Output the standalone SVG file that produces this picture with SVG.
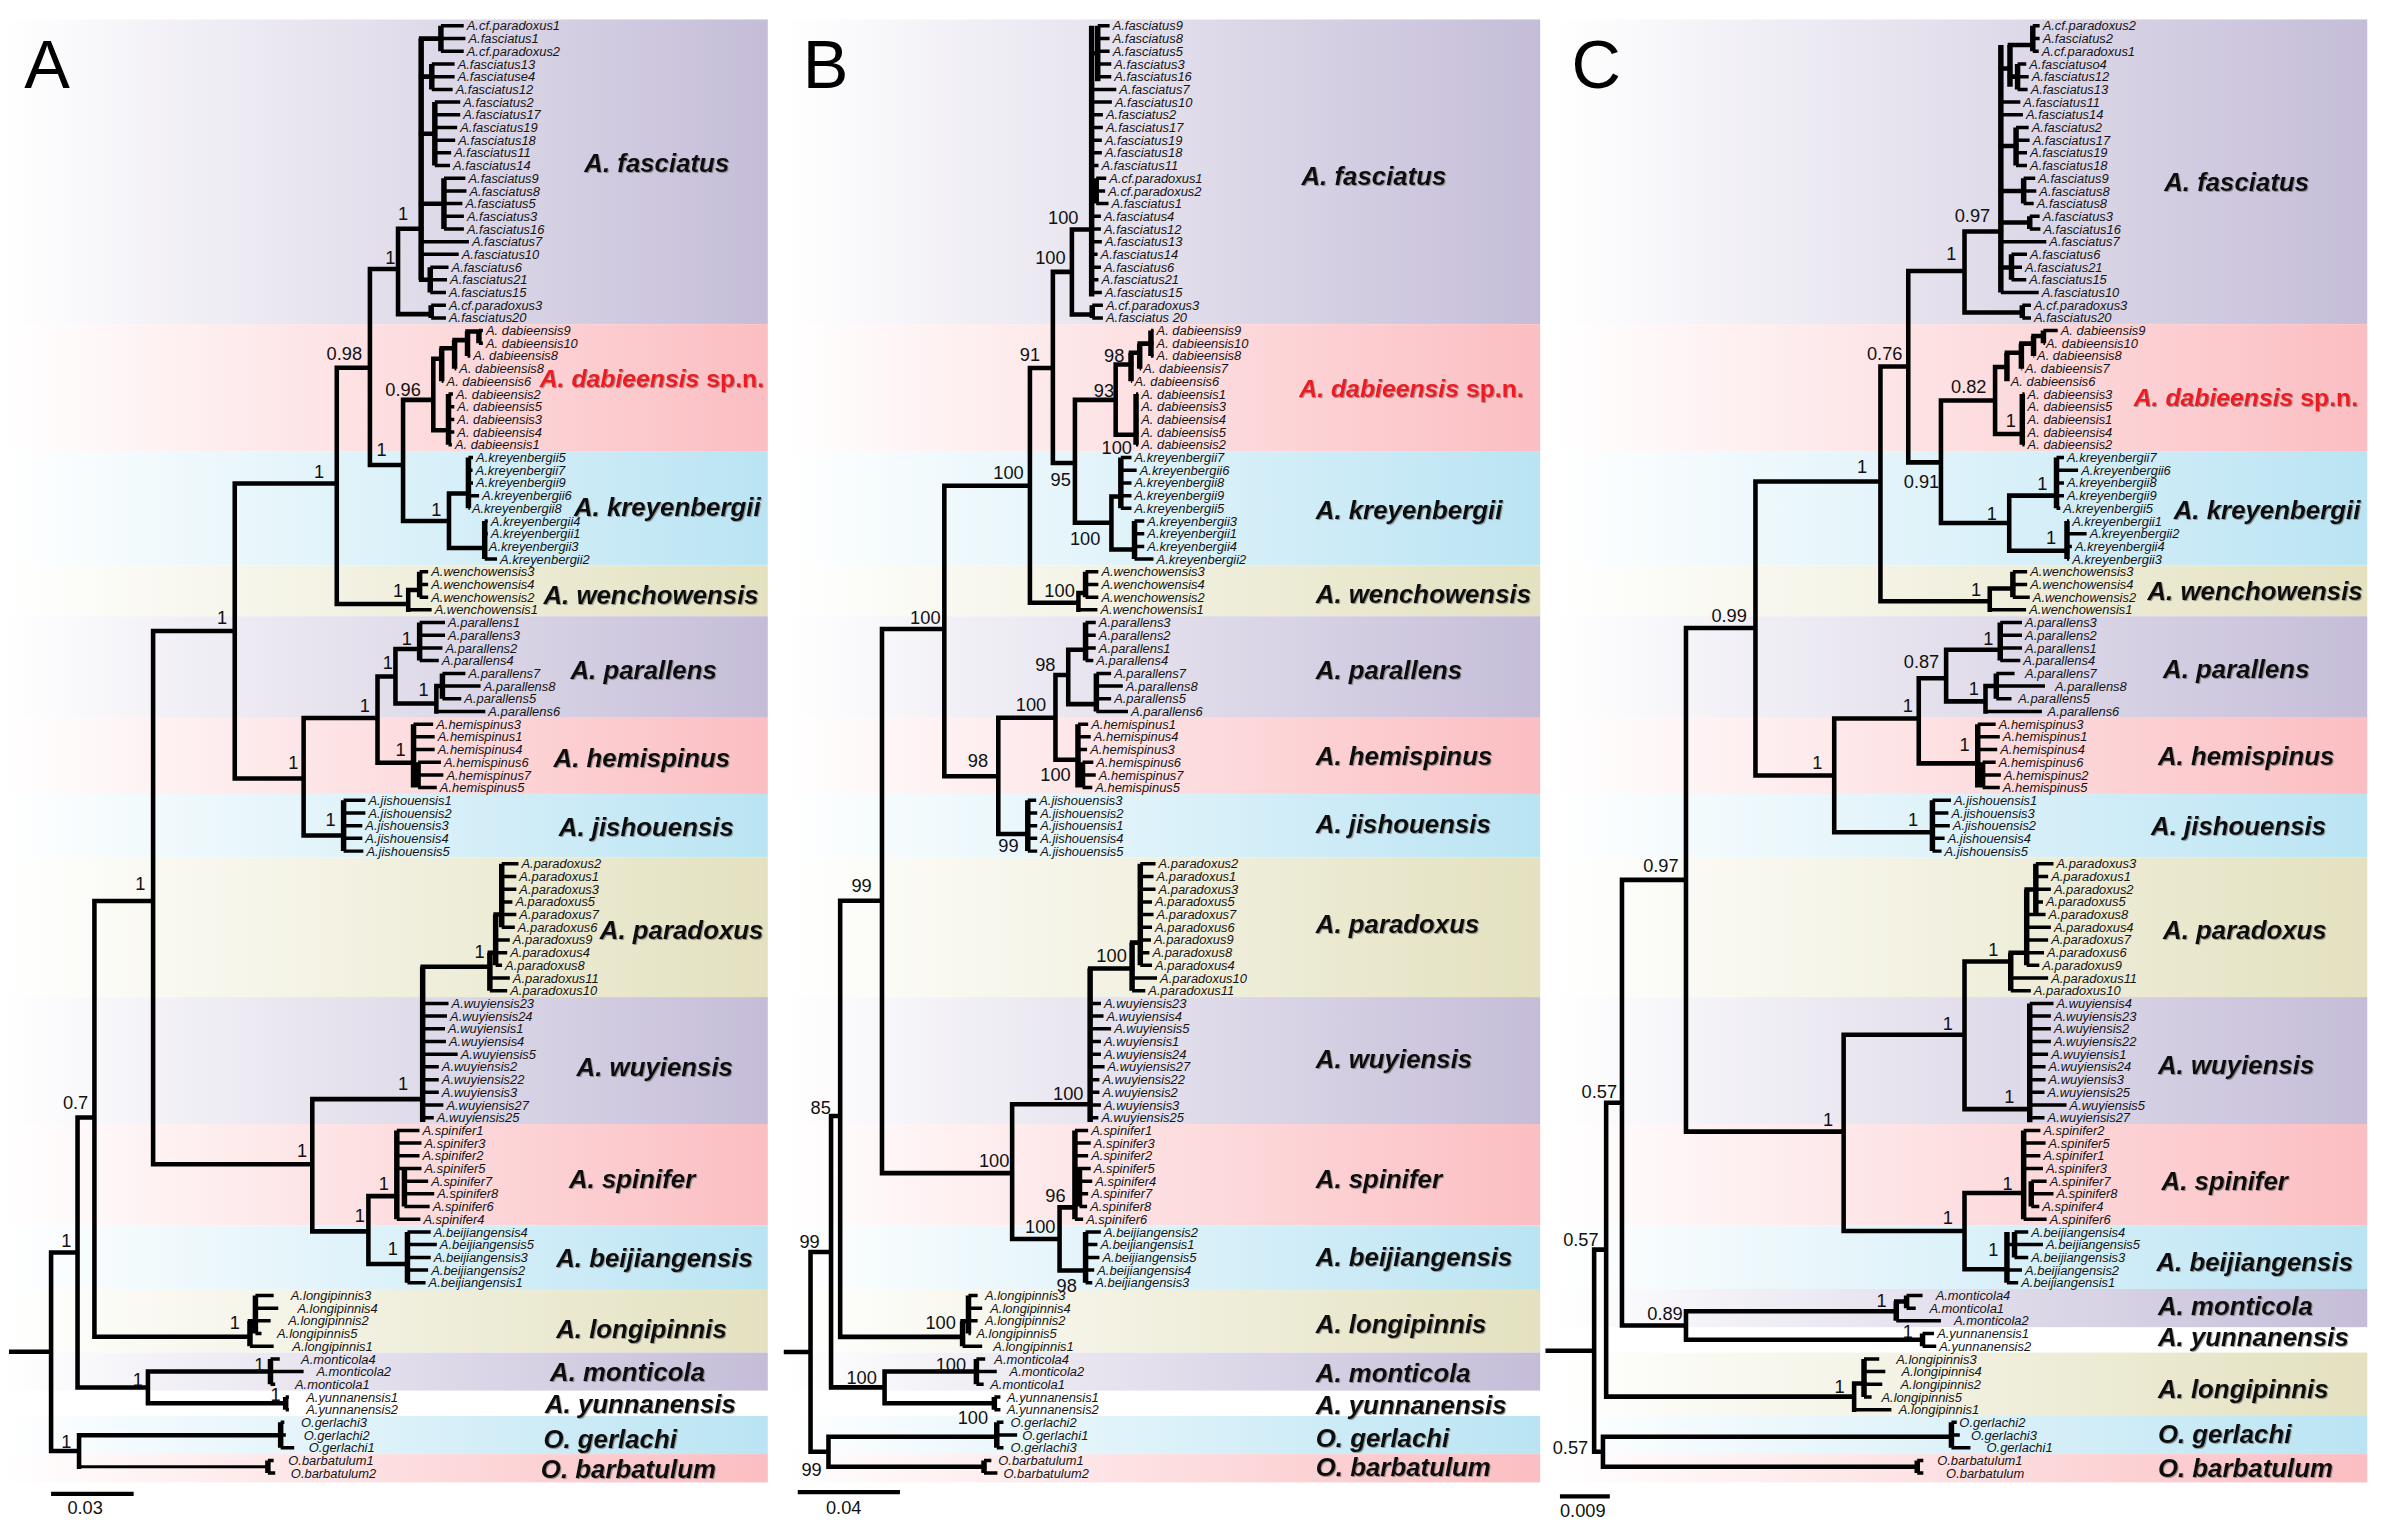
<svg xmlns="http://www.w3.org/2000/svg" width="2384" height="1531" viewBox="0 0 2384 1531">
<defs>
<linearGradient id="gL" x1="0" y1="0" x2="1" y2="0"><stop offset="0" stop-color="#ffffff"/><stop offset="1" stop-color="#c5bdd8"/></linearGradient>
<linearGradient id="gP" x1="0" y1="0" x2="1" y2="0"><stop offset="0" stop-color="#ffffff"/><stop offset="1" stop-color="#fbbec2"/></linearGradient>
<linearGradient id="gB" x1="0" y1="0" x2="1" y2="0"><stop offset="0" stop-color="#ffffff"/><stop offset="1" stop-color="#bae4f3"/></linearGradient>
<linearGradient id="gK" x1="0" y1="0" x2="1" y2="0"><stop offset="0" stop-color="#ffffff"/><stop offset="1" stop-color="#e3e1bf"/></linearGradient>
<filter id="sh" x="-5%" y="-20%" width="110%" height="140%"><feDropShadow dx="0.7" dy="0.7" stdDeviation="0.35" flood-color="#555" flood-opacity="0.55"/></filter>
<style>
.br{fill:none;stroke:#000;stroke-width:3;stroke-linecap:square}
.cb{fill:none;stroke:#000;stroke-width:3.6}
.st{fill:none;stroke:#000;stroke-width:2.3}
.tn{fill:none;stroke:#000;stroke-width:2}
.sb{fill:none;stroke:#000;stroke-width:2.8}
.tip{font-family:"Liberation Sans",Arial,sans-serif;font-style:italic;font-size:8.5px;fill:#141414}
.sup{font-family:"Liberation Sans",Arial,sans-serif;font-size:12px;fill:#111;text-anchor:middle}
.cl{font-family:"Liberation Sans",Arial,sans-serif;font-style:italic;font-weight:bold;font-size:17px;fill:#111;filter:url(#sh)}
.red{fill:#ec1c24;font-size:16.3px}
.up{font-style:normal}
.let{font-family:"Liberation Sans",Arial,sans-serif;font-size:45px;fill:#000}
</style>
</defs>
<rect width="2384" height="1531" fill="#ffffff"/>
<g transform="scale(1.520408)">

<!-- ================= PANEL A ================= -->
<g id="panelA">
<g id="A-bands">
<rect x="2" y="12.8" width="503" height="200.4" fill="url(#gL)"/>
<rect x="2" y="213.2" width="503" height="83.5" fill="url(#gP)"/>
<rect x="2" y="296.7" width="503" height="75.2" fill="url(#gB)"/>
<rect x="2" y="371.9" width="503" height="33.4" fill="url(#gK)"/>
<rect x="2" y="405.3" width="503" height="66.8" fill="url(#gL)"/>
<rect x="2" y="472.1" width="503" height="50.1" fill="url(#gP)"/>
<rect x="2" y="522.2" width="503" height="41.7" fill="url(#gB)"/>
<rect x="2" y="563.9" width="503" height="91.9" fill="url(#gK)"/>
<rect x="2" y="655.8" width="503" height="83.5" fill="url(#gL)"/>
<rect x="2" y="739.3" width="503" height="66.8" fill="url(#gP)"/>
<rect x="2" y="806.1" width="503" height="41.7" fill="url(#gB)"/>
<rect x="2" y="847.8" width="503" height="41.8" fill="url(#gK)"/>
<rect x="2" y="889.6" width="503" height="25" fill="url(#gL)"/>
<rect x="2" y="931.3" width="503" height="25.1" fill="url(#gB)"/>
<rect x="2" y="956.4" width="503" height="18.6" fill="url(#gP)"/>
</g>
<text class="let" x="16" y="57.6">A</text>
<g id="A-connectors">
<path class="br" d="M7.4 889.1H33.6M33.6 823.8V954.4M33.6 823.8H51M51 735V912.6M51 735H62.1M62.1 592.6V879.2M62.1 592.6H100.7M100.7 415V765.8M100.7 415H154.4M154.4 318V512M154.4 318H221.5M221.5 241.9V397.2M221.5 241.9H243.3M243.3 176.9V305.9M243.3 176.9H261.8M261.8 150.4V206.6M261.8 150.4H277M261.8 206.6H283.6M243.3 305.9H265.1M265.1 263V342.7M265.1 263H285M285 236V283M265.1 342.7H295.3M295.3 324.6V360.4M295.3 324.6H308.1M295.3 360.4H318.8M221.5 397.2H268.5M268.5 388.1V401.1M268.5 388.1H276M154.4 512H199.7M199.7 472.2V549.5M199.7 472.2H248.3M248.3 444.9V501.7M248.3 444.9H260.1M260.1 426.8V462.7M260.1 426.8H276M260.1 462.7H287M287 451.2V467.9M287 451.2H291M248.3 501.7H272M199.7 549.5H226M100.7 765.8H205.4M205.4 722.9V809.9M205.4 722.9H278M205.4 809.9H242.3M242.3 786.7V831.4M242.3 786.7H261M242.3 831.4H268M278 635.8H322.2M322.2 626.6H326M326 601.5H330M62.1 879.2H164.4M164.4 869H168M51 912.6H97.3M97.3 902.1V923M97.3 902.1H177.9M97.3 923H187.9M33.6 954.4H52M52 944V964.7M52 944H184.6M285 236H290.5M290.5 229H299M299 223.7H307.5M307.5 218H315M285 283H295M277 25.4H290M277 50.4H284M277 88H286M277 134H292M277 184H283"/>
<path class="tn" d="M52 964.7H176.2"/>
<path class="cb" d="M277 25.4V184M290 17V33.7M284 42.1V58.8M286 67.1V108.9M292 117.2V150.6M283 175.7V192.4M283.6 200.7V209.1M290.5 229V250.8M299 223.7V242.5M307.5 218V234.1M315 217.4V225.8M295 259.2V292.6M308.1 300.9V334.3M318.8 342.7V367.7M276 376.1V392.8M276 409.5V434.5M291 442.9V459.6M272 476.3V518M275 501.3V518M226 526.4V559.8M330 568.1V609.9M326 601.5V634.9M322.2 626.6V651.6M278 635.8V738M261 743.5V801.9M266 768.5V793.6M268 810.3V843.7M164.4 869V885.4M168 852V877.1M177.9 893.8V910.5M187.9 918.8V927.2M184.6 935.5V952.2M176.2 960.6V968.9"/>
<path class="st" d="M290 17H305M290 25.4H306.1M290 33.7H305M284 42.1H299M284 50.4H299M284 58.8H297.7M286 67.1H302.7M286 75.5H302.7M286 83.8H300.7M286 92.2H299.4M286 100.5H296.7M286 108.9H296M292 117.2H306.1M292 125.6H306.8M292 133.9H304.1M292 142.3H305.1M292 150.6H305.1M277 159H308.4M277 167.3H301.7M283 175.7H295M283 184H294M283 192.4H293.3M283.6 200.7H293.3M283.6 209.1H293.3M315 217.4H317.6M315 225.8H317.6M307.5 234.1H309.3M299 242.5H300.1M290.5 250.8H291.7M295 259.2H297.9M295 267.5H298.8M295 275.9H298.8M295 284.2H298.8M295 292.6H297.2M308.1 300.9H311.1M308.1 309.3H310.8M308.1 317.6H311.1M308.1 326H315.1M308.1 334.3H309M318.8 342.7H320.8M318.8 351H320.8M318.8 359.4H319.5M318.8 367.7H326.9M276 376.1H281.6M276 384.4H281.6M276 392.8H281.6M268.5 401.1H283.9M276 409.5H292.7M276 417.8H292.7M276 426.2H291M276 434.5H288.6M291 442.9H306.1M291 451.2H316.1M291 459.6H303.4M287 467.9H319.2M272 476.3H284.9M272 484.6H285.9M272 493H285.9M275 501.3H290M275 509.7H291.6M275 518H287.3M226 526.4H240.3M226 534.7H240.3M226 543.1H238.3M226 551.4H238.3M226 559.8H239M330 568.1H341M330 576.5H339.6M330 584.8H339.6M330 593.2H337M330 601.5H339.6M330 609.9H338.6M326 618.2H335.3M326 626.6H333.6M326 634.9H330.2M322.2 643.3H335.3M322.2 651.6H333.6M278 660H295M278 668.3H294M278 676.7H292.7M278 685H293.3M278 693.4H301M278 701.7H288.6M278 710.1H288.6M278 718.4H288.6M278 726.8H291.6M278 735.1H285.3M261 743.5H275.9M261 751.8H277.2M261 760.2H275.9M261 768.5H277.2M266 776.9H281.6M266 785.2H285.6M266 793.6H282.6M261 801.9H276.5M268 810.3H283.3M268 818.6H287.3M268 827H283.3M268 835.3H281.6M268 843.7H279.9M168 852H180M168 860.4H183M168 868.7H178M168 877.1H172M164.4 885.4H180M177.9 893.8H184M177.9 902.1H199.7M177.9 910.5H181M187.9 918.8H190M187.9 927.2H190M184.6 935.5H187M184.6 943.9H188M184.6 952.2H193.5M176.2 960.6H180M176.2 968.9H181"/>
<path class="sb" d="M33.6 982.6H87.9"/>
</g>
<g class="sup">
<text x="265.1" y="144.5">1</text><text x="256.7" y="173.8">1</text><text x="226.5" y="237.1">0.98</text><text x="265.1" y="260.2">0.96</text><text x="251" y="300">1</text><text x="286.9" y="339.6">1</text><text x="209.8" y="314.3">1</text><text x="261.8" y="392.5">1</text><text x="146" y="410.3">1</text><text x="267.5" y="424">1</text><text x="255" y="439.9">1</text><text x="278.6" y="458">1</text><text x="240" y="468.3">1</text><text x="263.4" y="497">1</text><text x="193" y="505.8">1</text><text x="217.5" y="543.3">1</text><text x="92.3" y="585.3">1</text><text x="315.5" y="630.4">1</text><text x="265.1" y="717">1</text><text x="49.7" y="729.1">0.7</text><text x="198.7" y="761">1</text><text x="252.4" y="782.4">1</text><text x="236.6" y="803.9">1</text><text x="43.6" y="820.5">1</text><text x="258.4" y="825.7">1</text><text x="154.4" y="874.4">1</text><text x="170.5" y="901.9">1</text><text x="90.6" y="911.8">1</text><text x="181.2" y="921.7">1</text><text x="43.6" y="952.5">1</text>
<text x="56" y="996">0.03</text>
</g>
<g id="A-fasciatus" class="tip">
<text x="307" y="20">A.cf.paradoxus1</text><text x="308.1" y="28.4">A.fasciatus1</text><text x="307" y="36.7">A.cf.paradoxus2</text><text x="301" y="45.1">A.fasciatus13</text><text x="301" y="53.4">A.fasciatuse4</text><text x="299.7" y="61.8">A.fasciatus12</text><text x="304.7" y="70.1">A.fasciatus2</text><text x="304.7" y="78.5">A.fasciatus17</text><text x="302.7" y="86.8">A.fasciatus19</text><text x="301.4" y="95.2">A.fasciatus18</text><text x="298.7" y="103.5">A.fasciatus11</text><text x="298" y="111.9">A.fasciatus14</text><text x="308.1" y="120.2">A.fasciatus9</text><text x="308.8" y="128.6">A.fasciatus8</text><text x="306.1" y="136.9">A.fasciatus5</text><text x="307.1" y="145.3">A.fasciatus3</text><text x="307.1" y="153.6">A.fasciatus16</text><text x="310.4" y="162">A.fasciatus7</text><text x="303.7" y="170.3">A.fasciatus10</text><text x="297" y="178.7">A.fasciatus6</text><text x="296" y="187">A.fasciatus21</text><text x="295.3" y="195.4">A.fasciatus15</text><text x="295.3" y="203.7">A.cf.paradoxus3</text><text x="295.3" y="212.1">A.fasciatus20</text>
<text class="cl" x="384.3" y="113.4">A. fasciatus</text>
</g>
<g id="A-dabieensis" class="tip">
<text x="319.6" y="220.4">A. dabieensis9</text><text x="319.6" y="228.8">A. dabieensis10</text><text x="311.3" y="237.1">A. dabieensis8</text><text x="302.1" y="245.5">A. dabieensis8</text><text x="293.7" y="253.8">A. dabieensis6</text><text x="299.9" y="262.2">A. dabieensis2</text><text x="300.8" y="270.5">A. dabieensis5</text><text x="300.8" y="278.9">A. dabieensis3</text><text x="300.8" y="287.2">A. dabieensis4</text><text x="299.2" y="295.6">A. dabieensis1</text>
<text class="cl red" x="355" y="254.5">A. dabieensis <tspan class="up">sp.n.</tspan></text>
</g>
<g id="A-kreyenbergii" class="tip">
<text x="313.1" y="303.9">A.kreyenbergii5</text><text x="312.8" y="312.3">A.kreyenbergii7</text><text x="313.1" y="320.6">A.kreyenbergii9</text><text x="317.1" y="329">A.kreyenbergii6</text><text x="310.4" y="337.3">A.kreyenbergii8</text><text x="322.8" y="345.7">A.kreyenbergii4</text><text x="322.8" y="354">A.kreyenbergii1</text><text x="321.5" y="362.4">A.kreyenbergii3</text><text x="328.9" y="370.7">A.kreyenbergii2</text>
<text class="cl" x="377.5" y="339.4">A. kreyenbergii</text>
</g>
<g id="A-wenchowensis" class="tip">
<text x="283.6" y="379.1">A.wenchowensis3</text><text x="283.6" y="387.4">A.wenchowensis4</text><text x="283.6" y="395.8">A.wenchowensis2</text><text x="285.9" y="404.1">A.wenchowensis1</text>
<text class="cl" x="357.4" y="397.5">A. wenchowensis</text>
</g>
<g id="A-parallens" class="tip">
<text x="294.7" y="412.5">A.parallens1</text><text x="294.7" y="420.8">A.parallens3</text><text x="293" y="429.2">A.parallens2</text><text x="290.6" y="437.5">A.parallens4</text><text x="308.1" y="445.9">A.parallens7</text><text x="318.1" y="454.2">A.parallens8</text><text x="305.4" y="462.6">A.parallens5</text><text x="321.2" y="470.9">A.parallens6</text>
<text class="cl" x="375.2" y="446.4">A. parallens</text>
</g>
<g id="A-hemispinus" class="tip">
<text x="286.9" y="479.3">A.hemispinus3</text><text x="287.9" y="487.6">A.hemispinus1</text><text x="287.9" y="496">A.hemispinus4</text><text x="292" y="504.3">A.hemispinus6</text><text x="293.6" y="512.7">A.hemispinus7</text><text x="289.3" y="521">A.hemispinus5</text>
<text class="cl" x="364.1" y="504.3">A. hemispinus</text>
</g>
<g id="A-jishouensis" class="tip">
<text x="242.3" y="529.4">A.jishouensis1</text><text x="242.3" y="537.7">A.jishouensis2</text><text x="240.3" y="546.1">A.jishouensis3</text><text x="240.3" y="554.4">A.jishouensis4</text><text x="241" y="562.8">A.jishouensis5</text>
<text class="cl" x="367.5" y="549.8">A. jishouensis</text>
</g>
<g id="A-paradoxus" class="tip">
<text x="343" y="571.1">A.paradoxus2</text><text x="341.6" y="579.5">A.paradoxus1</text><text x="341.6" y="587.8">A.paradoxus3</text><text x="339" y="596.2">A.paradoxus5</text><text x="341.6" y="604.5">A.paradoxus7</text><text x="340.6" y="612.9">A.paradoxus6</text><text x="337.3" y="621.2">A.paradoxus9</text><text x="335.6" y="629.6">A.paradoxus4</text><text x="332.2" y="637.9">A.paradoxus8</text><text x="337.3" y="646.3">A.paradoxus11</text><text x="335.6" y="654.6">A.paradoxus10</text>
<text class="cl" x="394.5" y="617.9">A. paradoxus</text>
</g>
<g id="A-wuyiensis" class="tip">
<text x="297" y="663">A.wuyiensis23</text><text x="296" y="671.3">A.wuyiensis24</text><text x="294.7" y="679.7">A.wuyiensis1</text><text x="295.3" y="688">A.wuyiensis4</text><text x="303" y="696.4">A.wuyiensis5</text><text x="290.6" y="704.7">A.wuyiensis2</text><text x="290.6" y="713.1">A.wuyiensis22</text><text x="290.6" y="721.4">A.wuyiensis3</text><text x="293.6" y="729.8">A.wuyiensis27</text><text x="287.3" y="738.1">A.wuyiensis25</text>
<text class="cl" x="379.2" y="708">A. wuyiensis</text>
</g>
<g id="A-spinifer" class="tip">
<text x="277.9" y="746.5">A.spinifer1</text><text x="279.2" y="754.8">A.spinifer3</text><text x="277.9" y="763.2">A.spinifer2</text><text x="279.2" y="771.5">A.spinifer5</text><text x="283.6" y="779.9">A.spinifer7</text><text x="287.6" y="788.2">A.spinifer8</text><text x="284.6" y="796.6">A.spinifer6</text><text x="278.5" y="804.9">A.spinifer4</text>
<text class="cl" x="374.2" y="781.1">A. spinifer</text>
</g>
<g id="A-beijiangensis" class="tip">
<text x="285.3" y="813.3">A.beijiangensis4</text><text x="289.3" y="821.6">A.beijiangensis5</text><text x="285.3" y="830">A.beijiangensis3</text><text x="283.6" y="838.3">A.beijiangensis2</text><text x="281.9" y="846.7">A.beijiangensis1</text>
<text class="cl" x="365.8" y="833.5">A. beijiangensis</text>
</g>
<g id="A-longipinnis" class="tip">
<text x="191.3" y="855">A.longipinnis3</text><text x="195.6" y="863.4">A.longipinnis4</text><text x="189.6" y="871.7">A.longipinnis2</text><text x="182.2" y="880.1">A.longipinnis5</text><text x="192.3" y="888.4">A.longipinnis1</text>
<text class="cl" x="365.8" y="879.7">A. longipinnis</text>
</g>
<g id="A-monticola" class="tip">
<text x="198" y="896.8">A.monticola4</text><text x="208.1" y="905.1">A.monticola2</text><text x="194" y="913.5">A.monticola1</text>
<text class="cl" x="361.8" y="908.3">A. monticola</text>
</g>
<g id="A-yunnanensis" class="tip">
<text x="201.4" y="921.8">A.yunnanensis1</text><text x="201.4" y="930.2">A.yunnanensis2</text>
<text class="cl" x="358.4" y="929.2">A. yunnanensis</text>
</g>
<g id="A-gerlachi" class="tip">
<text x="198" y="938.5">O.gerlachi3</text><text x="199.7" y="946.9">O.gerlachi2</text><text x="203" y="955.2">O.gerlachi1</text>
<text class="cl" x="357.4" y="952.3">O. gerlachi</text>
</g>
<g id="A-barbatulum" class="tip">
<text x="189.6" y="963.6">O.barbatulum1</text><text x="191.3" y="971.9">O.barbatulum2</text>
<text class="cl" x="355.7" y="972.1">O. barbatulum</text>
</g>
</g>

<!-- ================= PANEL B ================= -->
<g id="panelB">
<g id="B-bands">
<rect x="516" y="12.8" width="497" height="200.4" fill="url(#gL)"/>
<rect x="516" y="213.2" width="497" height="83.5" fill="url(#gP)"/>
<rect x="516" y="296.7" width="497" height="75.2" fill="url(#gB)"/>
<rect x="516" y="371.9" width="497" height="33.4" fill="url(#gK)"/>
<rect x="516" y="405.3" width="497" height="66.8" fill="url(#gL)"/>
<rect x="516" y="472.1" width="497" height="50.1" fill="url(#gP)"/>
<rect x="516" y="522.2" width="497" height="41.7" fill="url(#gB)"/>
<rect x="516" y="563.9" width="497" height="91.9" fill="url(#gK)"/>
<rect x="516" y="655.8" width="497" height="83.5" fill="url(#gL)"/>
<rect x="516" y="739.3" width="497" height="66.8" fill="url(#gP)"/>
<rect x="516" y="806.1" width="497" height="41.7" fill="url(#gB)"/>
<rect x="516" y="847.8" width="497" height="41.8" fill="url(#gK)"/>
<rect x="516" y="889.6" width="497" height="25" fill="url(#gL)"/>
<rect x="516" y="931.3" width="497" height="25.1" fill="url(#gB)"/>
<rect x="516" y="956.4" width="497" height="18.6" fill="url(#gP)"/>
</g>
<text class="let" x="528" y="57.8">B</text>
<g id="B-connectors">
<path class="br" d="M517 889.2H533.1M533.1 823.5V954.9M533.1 823.5H546.6M546.6 734V912.5M546.6 734H552.6M552.6 592.5V879.3M552.6 592.5H580.1M580.1 413.7V771.6M580.1 413.7H621.1M621.1 319.5V510.5M621.1 319.5H677.4M677.4 242V396.4M677.4 242H692.5M692.5 178.8V304.5M692.5 178.8H705M705 150.9V206.9M705 150.9H718M705 206.9H718.4M692.5 304.5H707M707 263V343.8M707 263H733.8M733.8 239.8V285.9M707 343.8H731M731 326.5V361.4M731 326.5H737.2M731 361.4H746.2M677.4 396.4H709.3M709.3 390V401.1M709.3 390H714M621.1 510.5H656.6M656.6 472.1V548.5M656.6 472.1H694.2M694.2 443.9V499.7M694.2 443.9H702.6M702.6 427.4V463.1M702.6 427.4H714M702.6 463.1H721.1M694.2 499.7H709M656.6 548.5H676M580.1 771.6H665.7M665.7 726.3V814.9M665.7 726.3H717M665.7 814.9H696.9M696.9 794.1V835.6M696.9 794.1H707M696.9 835.6H714M717 637H744.6M552.6 879.3H633.1M546.6 912.5H581.8M581.8 902.1V923M581.8 902.1H642.2M581.8 923H654M533.1 954.9H544.9M544.9 945V964.7M544.9 945H655.6M544.9 964.7H647.2M733.8 239.8H743.9M743.9 232H749.6M749.6 226H757M733.8 285.9H747.2M744.6 620H750M633.1 869H637M718 35H722M718 125.6H721"/>
<path class="cb" d="M718 17V195M722 17V53.4M721 117.2V133.9M718.4 200.7V209.1M757 217.4V234.1M749.6 226V242.5M743.9 232V250.8M747.2 259.2V292.6M737.2 300.9V334.3M746.2 342.7V367.7M714 376.1V392.8M714 409.5V434.5M721.1 442.9V467.9M709 476.3V518M712 501.3V518M676 526.4V559.8M750 568.1V634.9M744.6 620V651.6M717 637V738M707 743.5V801.9M710 768.5V793.6M714 810.3V843.7M633.1 869V885.4M637 852V877.1M642.2 893.8V910.5M654 918.8V927.2M655.6 935.5V952.2M647.2 960.6V968.9"/>
<path class="st" d="M722 17H729.8M722 25.4H729.8M722 33.7H729.8M722 42.1H730.9M722 50.4H730.9M718 58.8H734.2M718 67.1H731.3M718 75.5H725.4M718 83.8H725.4M718 92.2H724.7M718 100.5H724.7M718 108.9H722.5M721 117.2H727.6M721 125.6H726.9M721 133.9H729.1M718 142.3H724.1M718 150.6H724.1M718 159H724.7M718 167.3H721.9M718 175.7H724.1M718 184H722.5M718 192.4H724.7M718.4 200.7H725.4M718.4 209.1H725.4M757 217.4H758.7M757 225.8H758.7M757 234.1H758.7M749.6 242.5H750.5M743.9 250.8H744.6M747.2 259.2H748.6M747.2 267.5H748.6M747.2 275.9H748.6M747.2 284.2H748.6M747.2 292.6H748.6M737.2 300.9H744.2M737.2 309.3H747.6M737.2 317.6H744.2M737.2 326H744.2M737.2 334.3H744.2M746.2 342.7H752.6M746.2 351H752.6M746.2 359.4H752.6M746.2 367.7H758.7M714 376.1H722.4M714 384.4H722.4M714 392.8H722.4M709.3 401.1H721.8M714 409.5H720.7M714 417.8H720.7M714 426.2H720.7M714 434.5H719.1M721.1 442.9H730.8M721.1 451.2H738.5M721.1 459.6H730.8M721.1 467.9H741.9M709 476.3H715.7M709 484.6H717.4M709 493H715M712 501.3H719.1M712 509.7H720.7M712 518H718.4M676 526.4H681.5M676 534.7H682.2M676 543.1H682.2M676 551.4H682.2M676 559.8H682.2M750 568.1H760M750 576.5H758.7M750 584.8H760M750 593.2H757.7M750 601.5H758.7M750 609.9H757.7M750 618.2H757M750 626.6H756M750 634.9H757.7M744.6 643.3H761M744.6 651.6H753.3M717 660H724.1M717 668.3H725.8M717 676.7H730.8M717 685H724.1M717 693.4H724.1M717 701.7H726.5M717 710.1H723.1M717 718.4H723.1M717 726.8H724.1M717 735.1H722.4M707 743.5H715.7M707 751.8H717.4M707 760.2H715.7M707 768.5H717.4M710 776.9H718.4M710 785.2H715.7M710 793.6H715M707 801.9H712.4M714 810.3H724.1M714 818.6H721.8M714 827H723.1M714 835.3H719.7M714 843.7H718.4M637 852H643M637 860.4H646M637 868.7H643M637 877.1H638.5M633.1 885.4H646M642.2 893.8H648M642.2 902.1H655.6M642.2 910.5H647M654 918.8H658M654 927.2H658M655.6 935.5H660M655.6 943.9H669M655.6 952.2H660M647.2 960.6H652M647.2 968.9H656"/>
<path class="sb" d="M524.7 981.4H591.9"/>
</g>
<g class="sup">
<text x="699.3" y="147.2">100</text><text x="690.9" y="173.6">100</text><text x="677.4" y="237.2">91</text><text x="732.8" y="238.3">98</text><text x="726.1" y="261.4">93</text><text x="734.5" y="298.7">100</text><text x="663.3" y="315.1">100</text><text x="697.6" y="319.5">95</text><text x="713.7" y="358.3">100</text><text x="696.9" y="392.9">100</text><text x="608.6" y="410.6">100</text><text x="687.5" y="441.2">98</text><text x="678.1" y="467.6">100</text><text x="643.2" y="504.4">98</text><text x="694.2" y="513.5">100</text><text x="663.3" y="560.1">99</text><text x="566.7" y="586.6">99</text><text x="731.1" y="632.4">100</text><text x="702.6" y="723.8">100</text><text x="539.8" y="732.5">85</text><text x="653.9" y="767.5">100</text><text x="694.2" y="790.4">96</text><text x="684.2" y="811.2">100</text><text x="532.5" y="820.6">99</text><text x="701.6" y="850">98</text><text x="618.7" y="873.9">100</text><text x="625.4" y="901.5">100</text><text x="566.7" y="910.2">100</text><text x="639.9" y="936.5">100</text><text x="533.8" y="970.8">99</text>
<text x="554.9" y="996">0.04</text>
</g>
<g id="B-fasciatus" class="tip">
<text x="731.8" y="20">A.fasciatus9</text><text x="731.8" y="28.4">A.fasciatus8</text><text x="731.8" y="36.7">A.fasciatus5</text><text x="732.9" y="45.1">A.fasciatus3</text><text x="732.9" y="53.4">A.fasciatus16</text><text x="736.2" y="61.8">A.fasciatus7</text><text x="733.3" y="70.1">A.fasciatus10</text><text x="727.4" y="78.5">A.fasciatus2</text><text x="727.4" y="86.8">A.fasciatus17</text><text x="726.7" y="95.2">A.fasciatus19</text><text x="726.7" y="103.5">A.fasciatus18</text><text x="724.5" y="111.9">A.fasciatus11</text><text x="729.6" y="120.2">A.cf.paradoxus1</text><text x="728.9" y="128.6">A.cf.paradoxus2</text><text x="731.1" y="136.9">A.fasciatus1</text><text x="726.1" y="145.3">A.fasciatus4</text><text x="726.1" y="153.6">A.fasciatus12</text><text x="726.7" y="162">A.fasciatus13</text><text x="723.9" y="170.3">A.fasciatus14</text><text x="726.1" y="178.7">A.fasciatus6</text><text x="724.5" y="187">A.fasciatus21</text><text x="726.7" y="195.4">A.fasciatus15</text><text x="727.4" y="203.7">A.cf.paradoxus3</text><text x="727.4" y="212.1">A.fasciatus 20</text>
<text class="cl" x="856" y="121.8">A. fasciatus</text>
</g>
<g id="B-dabieensis" class="tip">
<text x="760.7" y="220.4">A. dabieensis9</text><text x="760.7" y="228.8">A. dabieensis10</text><text x="760.7" y="237.1">A. dabieensis8</text><text x="752" y="245.5">A. dabieensis7</text><text x="746.2" y="253.8">A. dabieensis6</text><text x="750.6" y="262.2">A. dabieensis1</text><text x="750.6" y="270.5">A. dabieensis3</text><text x="750.6" y="278.9">A. dabieensis4</text><text x="750.6" y="287.2">A. dabieensis5</text><text x="750.6" y="295.6">A. dabieensis2</text>
<text class="cl red" x="854.6" y="261.2">A. dabieensis <tspan class="up">sp.n.</tspan></text>
</g>
<g id="B-kreyenbergii" class="tip">
<text x="746.2" y="303.9">A.kreyenbergii7</text><text x="749.6" y="312.3">A.kreyenbergii6</text><text x="746.2" y="320.6">A.kreyenbergii8</text><text x="746.2" y="329">A.kreyenbergii9</text><text x="746.2" y="337.3">A.kreyenbergii5</text><text x="754.6" y="345.7">A.kreyenbergii3</text><text x="754.6" y="354">A.kreyenbergii1</text><text x="754.6" y="362.4">A.kreyenbergii4</text><text x="760.7" y="370.7">A.kreyenbergii2</text>
<text class="cl" x="865.4" y="341.4">A. kreyenbergii</text>
</g>
<g id="B-wenchowensis" class="tip">
<text x="724.4" y="379.1">A.wenchowensis3</text><text x="724.4" y="387.4">A.wenchowensis4</text><text x="724.4" y="395.8">A.wenchowensis2</text><text x="723.8" y="404.1">A.wenchowensis1</text>
<text class="cl" x="865.4" y="396.3">A. wenchowensis</text>
</g>
<g id="B-parallens" class="tip">
<text x="722.7" y="412.5">A.parallens3</text><text x="722.7" y="420.8">A.parallens2</text><text x="722.7" y="429.2">A.parallens1</text><text x="721.1" y="437.5">A.parallens4</text><text x="732.8" y="445.9">A.parallens7</text><text x="740.5" y="454.2">A.parallens8</text><text x="732.8" y="462.6">A.parallens5</text><text x="743.9" y="470.9">A.parallens6</text>
<text class="cl" x="865.4" y="446.5">A. parallens</text>
</g>
<g id="B-hemispinus" class="tip">
<text x="717.7" y="479.3">A.hemispinus1</text><text x="719.4" y="487.6">A.hemispinus4</text><text x="717" y="496">A.hemispinus3</text><text x="721.1" y="504.3">A.hemispinus6</text><text x="722.7" y="512.7">A.hemispinus7</text><text x="720.4" y="521">A.hemispinus5</text>
<text class="cl" x="865.4" y="503">A. hemispinus</text>
</g>
<g id="B-jishouensis" class="tip">
<text x="683.5" y="529.4">A.jishouensis3</text><text x="684.2" y="537.7">A.jishouensis2</text><text x="684.2" y="546.1">A.jishouensis1</text><text x="684.2" y="554.4">A.jishouensis4</text><text x="684.2" y="562.8">A.jishouensis5</text>
<text class="cl" x="865.4" y="548.1">A. jishouensis</text>
</g>
<g id="B-paradoxus" class="tip">
<text x="762" y="571.1">A.paradoxus2</text><text x="760.7" y="579.5">A.paradoxus1</text><text x="762" y="587.8">A.paradoxus3</text><text x="759.7" y="596.2">A.paradoxus5</text><text x="760.7" y="604.5">A.paradoxus7</text><text x="759.7" y="612.9">A.paradoxus6</text><text x="759" y="621.2">A.paradoxus9</text><text x="758" y="629.6">A.paradoxus8</text><text x="759.7" y="637.9">A.paradoxus4</text><text x="763" y="646.3">A.paradoxus10</text><text x="755.3" y="654.6">A.paradoxus11</text>
<text class="cl" x="865.4" y="613.6">A. paradoxus</text>
</g>
<g id="B-wuyiensis" class="tip">
<text x="726.1" y="663">A.wuyiensis23</text><text x="727.8" y="671.3">A.wuyiensis4</text><text x="732.8" y="679.7">A.wuyiensis5</text><text x="726.1" y="688">A.wuyiensis1</text><text x="726.1" y="696.4">A.wuyiensis24</text><text x="728.5" y="704.7">A.wuyiensis27</text><text x="725.1" y="713.1">A.wuyiensis22</text><text x="725.1" y="721.4">A.wuyiensis2</text><text x="726.1" y="729.8">A.wuyiensis3</text><text x="724.4" y="738.1">A.wuyiensis25</text>
<text class="cl" x="865.4" y="702.4">A. wuyiensis</text>
</g>
<g id="B-spinifer" class="tip">
<text x="717.7" y="746.5">A.spinifer1</text><text x="719.4" y="754.8">A.spinifer3</text><text x="717.7" y="763.2">A.spinifer2</text><text x="719.4" y="771.5">A.spinifer5</text><text x="720.4" y="779.9">A.spinifer4</text><text x="717.7" y="788.2">A.spinifer7</text><text x="717" y="796.6">A.spinifer8</text><text x="714.4" y="804.9">A.spinifer6</text>
<text class="cl" x="865.4" y="781.5">A. spinifer</text>
</g>
<g id="B-beijiangensis" class="tip">
<text x="726.1" y="813.3">A.beijiangensis2</text><text x="723.8" y="821.6">A.beijiangensis1</text><text x="725.1" y="830">A.beijiangensis5</text><text x="721.7" y="838.3">A.beijiangensis4</text><text x="720.4" y="846.7">A.beijiangensis3</text>
<text class="cl" x="865.4" y="832.9">A. beijiangensis</text>
</g>
<g id="B-longipinnis" class="tip">
<text x="647.9" y="855">A.longipinnis3</text><text x="651.3" y="863.4">A.longipinnis4</text><text x="647.9" y="871.7">A.longipinnis2</text><text x="642.2" y="880.1">A.longipinnis5</text><text x="653.3" y="888.4">A.longipinnis1</text>
<text class="cl" x="865.4" y="876.6">A. longipinnis</text>
</g>
<g id="B-monticola" class="tip">
<text x="654" y="896.8">A.monticola4</text><text x="664" y="905.1">A.monticola2</text><text x="651.3" y="913.5">A.monticola1</text>
<text class="cl" x="865.4" y="908.7">A. monticola</text>
</g>
<g id="B-yunnanensis" class="tip">
<text x="662.3" y="921.8">A.yunnanensis1</text><text x="662.3" y="930.2">A.yunnanensis2</text>
<text class="cl" x="865.4" y="930.2">A. yunnanensis</text>
</g>
<g id="B-gerlachi" class="tip">
<text x="664.7" y="938.5">O.gerlachi2</text><text x="672.4" y="946.9">O.gerlachi1</text><text x="664.7" y="955.2">O.gerlachi3</text>
<text class="cl" x="865.4" y="951.6">O. gerlachi</text>
</g>
<g id="B-barbatulum" class="tip">
<text x="656.6" y="963.6">O.barbatulum1</text><text x="660" y="971.9">O.barbatulum2</text>
<text class="cl" x="865.4" y="970.6">O. barbatulum</text>
</g>
</g>

<!-- ================= PANEL C ================= -->
<g id="panelC">
<g id="C-bands">
<rect x="1022" y="12.8" width="535" height="200.4" fill="url(#gL)"/>
<rect x="1022" y="213.2" width="535" height="83.5" fill="url(#gP)"/>
<rect x="1022" y="296.7" width="535" height="75.2" fill="url(#gB)"/>
<rect x="1022" y="371.9" width="535" height="33.4" fill="url(#gK)"/>
<rect x="1022" y="405.3" width="535" height="66.8" fill="url(#gL)"/>
<rect x="1022" y="472.1" width="535" height="50.1" fill="url(#gP)"/>
<rect x="1022" y="522.2" width="535" height="41.7" fill="url(#gB)"/>
<rect x="1022" y="563.9" width="535" height="91.9" fill="url(#gK)"/>
<rect x="1022" y="655.8" width="535" height="83.5" fill="url(#gL)"/>
<rect x="1022" y="739.3" width="535" height="66.8" fill="url(#gP)"/>
<rect x="1022" y="806.1" width="535" height="41.7" fill="url(#gB)"/>
<rect x="1022" y="847.8" width="535" height="25.1" fill="url(#gL)"/>
<rect x="1022" y="889.6" width="535" height="41.7" fill="url(#gK)"/>
<rect x="1022" y="931.3" width="535" height="25.1" fill="url(#gB)"/>
<rect x="1022" y="956.4" width="535" height="18.6" fill="url(#gP)"/>
</g>
<text class="let" x="1033.6" y="57.6">C</text>
<g id="C-connectors">
<path class="br" d="M1018 888.4H1048.5M1048.5 821.9V954.9M1048.5 821.9H1056.4M1056.4 725.3V918.6M1056.4 725.3H1066.8M1066.8 578.7V871.8M1066.8 578.7H1108.9M1108.9 413V744.3M1108.9 413H1154.6M1154.6 316.7V510M1154.6 316.7H1236.8M1236.8 241V395.5M1236.8 241H1255.1M1255.1 178.3V304.1M1255.1 178.3H1292.1M1292.1 152.3V205.5M1292.1 152.3H1316M1292.1 205.5H1330.1M1255.1 304.1H1276.6M1276.6 263.4V344M1276.6 263.4H1312.2M1312.2 241.4V285.4M1276.6 344H1321.5M1321.5 326V362.2M1321.5 326H1352.6M1321.5 362.2H1359.5M1236.8 395.5H1308.7M1308.7 387.1V401.1M1308.7 387.1H1323.9M1154.6 510H1206.4M1206.4 472.6V547.4M1206.4 472.6H1262M1262 446.1V502.1M1262 446.1H1280M1280 427.3V461.3M1280 427.3H1315.6M1280 461.3H1305.9M1305.9 451.2V467.9M1305.9 451.2H1313M1262 502.1H1300.8M1206.4 547.4H1271M1108.9 744.3H1212.6M1212.6 680.6V809.7M1212.6 680.6H1292.1M1292.1 632.4V729.5M1292.1 632.4H1322.5M1292.1 729.5H1335M1212.6 809.7H1292.1M1292.1 784.7V834.8M1292.1 784.7H1331M1292.1 834.8H1320M1066.8 871.8H1108.9M1108.9 862.4V881.2M1108.9 862.4H1247.2M1108.9 881.2H1264.5M1056.4 918.6H1219.5M1219.5 910V927.2M1048.5 954.9H1054.3M1054.3 945V964.7M1054.3 945H1283.5M1054.3 964.7H1261M1316 45H1322M1322 29.6H1337M1322 50.4H1327M1316 96H1326M1316 125.6H1331M1316 146.4H1335M1316 176H1323M1312.2 241.4H1320M1320 232H1329.5M1329.5 226H1337.5M1337.5 221H1344M1312.2 285.4H1330.1M1322.5 626.6H1333M1333 585H1339M1247.2 856H1254M1219.5 910H1226"/>
<path class="cb" d="M1316 29.6V192.4M1322 29.6V57M1337 17V33.7M1327 42.1V58.8M1326 83.8V108.9M1331 117.2V133.9M1335 142.3V150.6M1323 167.3V184M1330.1 200.7V209.1M1320 232V250.8M1329.5 226V242.5M1337.5 221V234.1M1344 217.4V225.8M1330.1 259.2V292.6M1352.6 300.9V334.3M1359.5 342.7V367.7M1323.9 376.1V392.8M1315.6 409.5V434.5M1313 442.9V459.6M1300.8 476.3V518M1304 501.3V518M1271 526.4V559.8M1322.5 626.6V651.6M1333 585V634.9M1339 568.1V601.5M1335 660V738.1M1331 743.5V801.9M1336 776.9V793.6M1320 810.3V843.7M1325 810.3V827M1247.2 856V868.7M1254 852V860.4M1264.5 877.1V885.4M1226 893.8V918.8M1283.5 935.5V952.2M1261 960.6V968.9"/>
<path class="st" d="M1337 17H1341.5M1337 25.4H1341.5M1337 33.7H1340.9M1327 42.1H1332.7M1327 50.4H1334.3M1327 58.8H1333.6M1316 67.1H1328.8M1316 75.5H1330.5M1326 83.8H1334.3M1326 92.2H1334.9M1326 100.5H1333.2M1326 108.9H1333.2M1331 117.2H1338.6M1331 125.6H1339.3M1331 133.9H1337.6M1335 142.3H1341.5M1335 150.6H1342M1316 159H1345.9M1323 167.3H1333.2M1323 175.7H1329.9M1323 184H1332.7M1316 192.4H1340.9M1330.1 200.7H1335.8M1330.1 209.1H1335.8M1344 217.4H1353.4M1344 225.8H1345M1337.5 234.1H1338M1329.5 242.5H1330M1330.1 259.2H1331.6M1330.1 267.5H1331.6M1330.1 275.9H1331.6M1330.1 284.2H1331.6M1330.1 292.6H1331.6M1352.6 300.9H1357.5M1352.6 309.3H1366.8M1352.6 317.6H1357.5M1352.6 326H1357.5M1352.6 334.3H1355.1M1359.5 342.7H1360.9M1359.5 351H1372.4M1359.5 359.4H1362.7M1359.5 367.7H1360.9M1323.9 376.1H1333.3M1323.9 384.4H1333.3M1323.9 392.8H1335M1308.7 401.1H1332.6M1315.6 409.5H1329.9M1315.6 417.8H1329.9M1315.6 426.2H1329.9M1315.6 434.5H1328.8M1313 442.9H1325M1313 451.2H1345M1313 459.6H1323M1305.9 467.9H1343M1300.8 476.3H1312.6M1300.8 484.6H1315.3M1300.8 493H1313.6M1304 501.3H1312.6M1304 509.7H1316M1304 518H1315.3M1271 526.4H1283.2M1271 534.7H1281.5M1271 543.1H1282.4M1271 551.4H1279M1271 559.8H1277M1339 568.1H1350.6M1339 576.5H1347.1M1339 584.8H1348.9M1339 593.2H1343.7M1333 601.5H1345.4M1333 609.9H1348.9M1333 618.2H1347.1M1333 626.6H1344.4M1333 634.9H1341.3M1322.5 643.3H1347.1M1322.5 651.6H1335.7M1335 660H1350.6M1335 668.3H1348.9M1335 676.7H1348.9M1335 685H1348.9M1335 693.4H1347.1M1335 701.7H1345.4M1335 710.1H1345.4M1335 718.4H1344.7M1335 726.8H1359.2M1335 735.1H1344.7M1331 743.5H1342M1331 751.8H1345.4M1331 760.2H1342M1331 768.5H1343.7M1336 776.9H1346.1M1336 785.2H1350.6M1336 793.6H1341.3M1331 801.9H1346.1M1325 810.3H1334M1320 818.6H1343.7M1325 827H1334M1320 835.3H1329.9M1320 843.7H1327.4M1254 852H1264.5M1254 860.4H1260M1247.2 868.7H1276.6M1264.5 877.1H1272M1264.5 885.4H1273.5M1226 893.8H1236M1226 902.1H1240M1226 910.5H1238M1226 918.8H1231M1219.5 927.2H1244M1283.5 935.5H1287M1283.5 943.9H1289M1283.5 952.2H1296M1261 960.6H1265M1261 968.9H1265"/>
<path class="sb" d="M1026 984.2H1058.8"/>
</g>
<g class="sup">
<text x="1297.3" y="145.7">0.97</text><text x="1283.5" y="171.3">1</text><text x="1239.6" y="236.6">0.76</text><text x="1294.9" y="258.6">0.82</text><text x="1322.5" y="280.6">1</text><text x="1224.7" y="311.4">1</text><text x="1263.8" y="320.9">0.91</text><text x="1343.3" y="322.4">1</text><text x="1310.1" y="341.7">1</text><text x="1349.1" y="358">1</text><text x="1299.7" y="392">1</text><text x="1137.3" y="409.3">0.99</text><text x="1307.7" y="424.5">1</text><text x="1263.8" y="439.6">0.87</text><text x="1298.3" y="456.9">1</text><text x="1254.8" y="468.2">1</text><text x="1292.1" y="494.1">1</text><text x="1195.3" y="506.1">1</text><text x="1258.2" y="543">1</text><text x="1092.4" y="573.4">0.97</text><text x="1311.1" y="628.5">1</text><text x="1281.1" y="677.5">1</text><text x="1051.9" y="722.1">0.57</text><text x="1321.5" y="725.4">1</text><text x="1202.3" y="740.7">1</text><text x="1320.4" y="782.8">1</text><text x="1281.1" y="805">1</text><text x="1311.1" y="826.4">1</text><text x="1039.8" y="819.2">0.57</text><text x="1095.1" y="868.3">0.89</text><text x="1237.5" y="859.5">1</text><text x="1254.8" y="880.3">1</text><text x="1209.9" y="916.2">1</text><text x="1032.9" y="956.6">0.57</text>
<text x="1041" y="998">0.009</text>
</g>
<g id="C-fasciatus" class="tip">
<text x="1343.5" y="20">A.cf.paradoxus2</text><text x="1343.5" y="28.4">A.fasciatus2</text><text x="1342.9" y="36.7">A.cf.paradoxus1</text><text x="1334.7" y="45.1">A.fasciatuso4</text><text x="1336.3" y="53.4">A.fasciatus12</text><text x="1335.6" y="61.8">A.fasciatus13</text><text x="1330.8" y="70.1">A.fasciatus11</text><text x="1332.5" y="78.5">A.fasciatus14</text><text x="1336.3" y="86.8">A.fasciatus2</text><text x="1336.9" y="95.2">A.fasciatus17</text><text x="1335.2" y="103.5">A.fasciatus19</text><text x="1335.2" y="111.9">A.fasciatus18</text><text x="1340.6" y="120.2">A.fasciatus9</text><text x="1341.3" y="128.6">A.fasciatus8</text><text x="1339.6" y="136.9">A.fasciatus8</text><text x="1343.5" y="145.3">A.fasciatus3</text><text x="1344" y="153.6">A.fasciatus16</text><text x="1347.9" y="162">A.fasciatus7</text><text x="1335.2" y="170.3">A.fasciatus6</text><text x="1331.9" y="178.7">A.fasciatus21</text><text x="1334.7" y="187">A.fasciatus15</text><text x="1342.9" y="195.4">A.fasciatus10</text><text x="1337.8" y="203.7">A.cf.paradoxus3</text><text x="1337.8" y="212.1">A.fasciatus20</text>
<text class="cl" x="1423.4" y="125.3">A. fasciatus</text>
</g>
<g id="C-dabieensis" class="tip">
<text x="1355.4" y="220.4">A. dabieensis9</text><text x="1345.7" y="228.8">A. dabieensis10</text><text x="1339.8" y="237.1">A. dabieensis8</text><text x="1331.9" y="245.5">A. dabieensis7</text><text x="1322.5" y="253.8">A. dabieensis6</text><text x="1333.6" y="262.2">A. dabieensis3</text><text x="1333.6" y="270.5">A. dabieensis5</text><text x="1333.6" y="278.9">A. dabieensis1</text><text x="1333.6" y="287.2">A. dabieensis4</text><text x="1333.6" y="295.6">A. dabieensis2</text>
<text class="cl red" x="1403.4" y="267.2">A. dabieensis <tspan class="up">sp.n.</tspan></text>
</g>
<g id="C-kreyenbergii" class="tip">
<text x="1359.5" y="303.9">A.kreyenbergii7</text><text x="1368.8" y="312.3">A.kreyenbergii6</text><text x="1359.5" y="320.6">A.kreyenbergii8</text><text x="1359.5" y="329">A.kreyenbergii9</text><text x="1357.1" y="337.3">A.kreyenbergii5</text><text x="1362.9" y="345.7">A.kreyenbergii1</text><text x="1374.4" y="354">A.kreyenbergii2</text><text x="1364.7" y="362.4">A.kreyenbergii4</text><text x="1362.9" y="370.7">A.kreyenbergii3</text>
<text class="cl" x="1429.7" y="341.4">A. kreyenbergii</text>
</g>
<g id="C-wenchowensis" class="tip">
<text x="1335.3" y="379.1">A.wenchowensis3</text><text x="1335.3" y="387.4">A.wenchowensis4</text><text x="1337" y="395.8">A.wenchowensis2</text><text x="1334.6" y="404.1">A.wenchowensis1</text>
<text class="cl" x="1412.4" y="394.7">A. wenchowensis</text>
</g>
<g id="C-parallens" class="tip">
<text x="1331.9" y="412.5">A.parallens3</text><text x="1331.9" y="420.8">A.parallens2</text><text x="1331.9" y="429.2">A.parallens1</text><text x="1330.8" y="437.5">A.parallens4</text><text x="1331.9" y="445.9">A.parallens7</text><text x="1351.6" y="454.2">A.parallens8</text><text x="1327.4" y="462.6">A.parallens5</text><text x="1346.7" y="470.9">A.parallens6</text>
<text class="cl" x="1422.7" y="446.2">A. parallens</text>
</g>
<g id="C-hemispinus" class="tip">
<text x="1314.6" y="479.3">A.hemispinus3</text><text x="1317.3" y="487.6">A.hemispinus1</text><text x="1315.6" y="496">A.hemispinus4</text><text x="1314.6" y="504.3">A.hemispinus6</text><text x="1318" y="512.7">A.hemispinus2</text><text x="1317.3" y="521">A.hemispinus5</text>
<text class="cl" x="1419.3" y="502.9">A. hemispinus</text>
</g>
<g id="C-jishouensis" class="tip">
<text x="1285.2" y="529.4">A.jishouensis1</text><text x="1283.5" y="537.7">A.jishouensis3</text><text x="1284.4" y="546.1">A.jishouensis2</text><text x="1281" y="554.4">A.jishouensis4</text><text x="1279" y="562.8">A.jishouensis5</text>
<text class="cl" x="1414.8" y="548.9">A. jishouensis</text>
</g>
<g id="C-paradoxus" class="tip">
<text x="1352.6" y="571.1">A.paradoxus3</text><text x="1349.1" y="579.5">A.paradoxus1</text><text x="1350.9" y="587.8">A.paradoxus2</text><text x="1345.7" y="596.2">A.paradoxus5</text><text x="1347.4" y="604.5">A.paradoxus8</text><text x="1350.9" y="612.9">A.paradoxus4</text><text x="1349.1" y="621.2">A.paradoxus7</text><text x="1346.4" y="629.6">A.paradoxus6</text><text x="1343.3" y="637.9">A.paradoxus9</text><text x="1349.1" y="646.3">A.paradoxus11</text><text x="1337.7" y="654.6">A.paradoxus10</text>
<text class="cl" x="1422.7" y="617.6">A. paradoxus</text>
</g>
<g id="C-wuyiensis" class="tip">
<text x="1352.6" y="663">A.wuyiensis4</text><text x="1350.9" y="671.3">A.wuyiensis23</text><text x="1350.9" y="679.7">A.wuyiensis2</text><text x="1350.9" y="688">A.wuyiensis22</text><text x="1349.1" y="696.4">A.wuyiensis1</text><text x="1347.4" y="704.7">A.wuyiensis24</text><text x="1347.4" y="713.1">A.wuyiensis3</text><text x="1346.7" y="721.4">A.wuyiensis25</text><text x="1361.2" y="729.8">A.wuyiensis5</text><text x="1346.7" y="738.1">A.wuyiensis27</text>
<text class="cl" x="1419.3" y="706.7">A. wuyiensis</text>
</g>
<g id="C-spinifer" class="tip">
<text x="1344" y="746.5">A.spinifer2</text><text x="1347.4" y="754.8">A.spinifer5</text><text x="1344" y="763.2">A.spinifer1</text><text x="1345.7" y="771.5">A.spinifer3</text><text x="1348.1" y="779.9">A.spinifer7</text><text x="1352.6" y="788.2">A.spinifer8</text><text x="1343.3" y="796.6">A.spinifer4</text><text x="1348.1" y="804.9">A.spinifer6</text>
<text class="cl" x="1421.7" y="782.6">A. spinifer</text>
</g>
<g id="C-beijiangensis" class="tip">
<text x="1336" y="813.3">A.beijiangensis4</text><text x="1345.7" y="821.6">A.beijiangensis5</text><text x="1336" y="830">A.beijiangensis3</text><text x="1331.9" y="838.3">A.beijiangensis2</text><text x="1329.4" y="846.7">A.beijiangensis1</text>
<text class="cl" x="1418.3" y="835.8">A. beijiangensis</text>
</g>
<g id="C-monticola" class="tip">
<text x="1273.1" y="855">A.monticola4</text><text x="1269" y="863.4">A.monticola1</text><text x="1285.2" y="871.7">A.monticola2</text>
<text class="cl" x="1419.3" y="864.8">A. monticola</text>
</g>
<g id="C-yunnanensis" class="tip">
<text x="1274.1" y="880.1">A.yunnanensis1</text><text x="1275.5" y="888.4">A.yunnanensis2</text>
<text class="cl" x="1419.3" y="885.5">A. yunnanensis</text>
</g>
<g id="C-longipinnis" class="tip">
<text x="1247.2" y="896.8">A.longipinnis3</text><text x="1250.6" y="905.1">A.longipinnis4</text><text x="1250" y="913.5">A.longipinnis2</text><text x="1237.5" y="921.8">A.longipinnis5</text><text x="1248.9" y="930.2">A.longipinnis1</text>
<text class="cl" x="1419.3" y="919.3">A. longipinnis</text>
</g>
<g id="C-gerlachi" class="tip">
<text x="1288.7" y="938.5">O.gerlachi2</text><text x="1296.3" y="946.9">O.gerlachi3</text><text x="1306.6" y="955.2">O.gerlachi1</text>
<text class="cl" x="1419.3" y="948.8">O. gerlachi</text>
</g>
<g id="C-barbatulum" class="tip">
<text x="1274.1" y="963.6">O.barbatulum1</text><text x="1280" y="971.9">O.barbatulum</text>
<text class="cl" x="1419.3" y="971.7">O. barbatulum</text>
</g>
</g>
</g>
</svg>
